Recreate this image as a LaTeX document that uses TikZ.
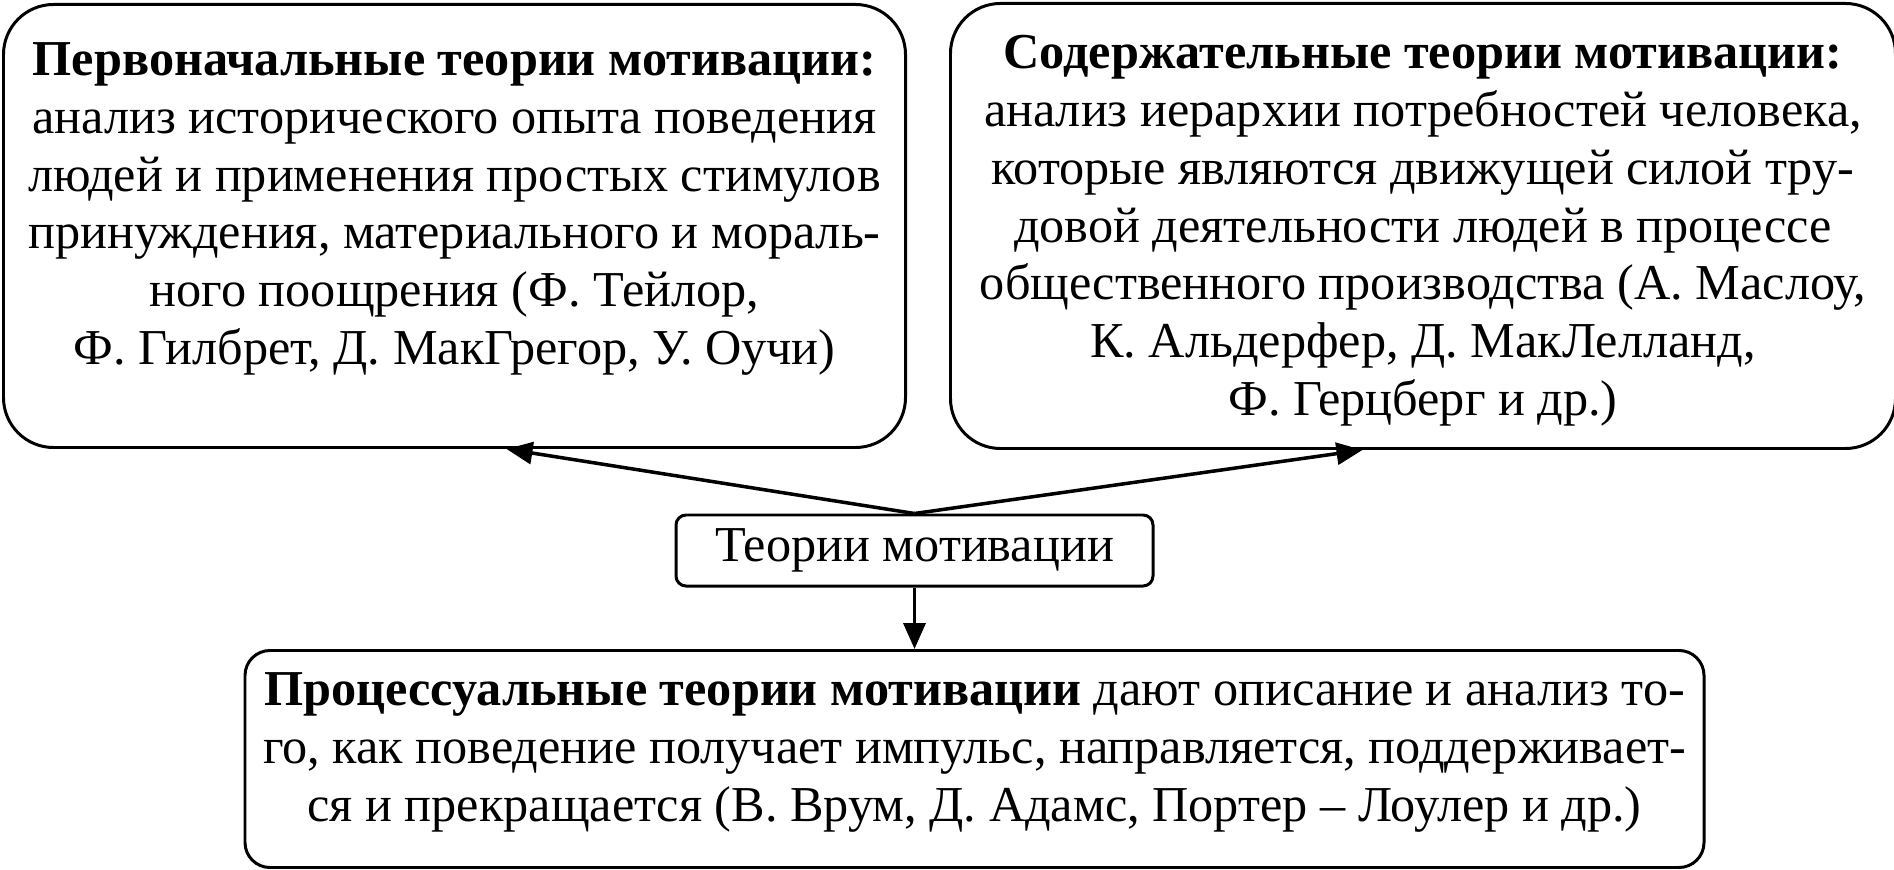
\documentclass[tikz,border=0pt]{standalone}
\usepackage{fontspec}
\setmainfont{Liberation Serif}
\usetikzlibrary{positioning, arrows.meta}

\begin{document}
\begin{tikzpicture}[
    bigbox/.style={rectangle, draw=black, line width=0.85pt, rounded corners=0.5cm, align=center, inner sep=0.1cm},
    smallbox/.style={rectangle, draw=black, line width=0.85pt, rounded corners=0.1cm, minimum width=4.77cm, minimum height=0.71cm},
    arrowline/.style={-{Triangle[length=0.26cm, width=0.22cm]}, line width=1pt},
    font=\fontsize{14.3pt}{16.45pt}\selectfont,
]
\useasboundingbox (0,0) rectangle (18.94,-8.69);
\node[bigbox, minimum width=9.02cm, text height=3.50cm, text depth=0.73cm, anchor=north west](early) at (0.02,-0.03){\textbf{Первоначальные теории мотивации:}\\
анализ исторического опыта поведения\\
людей и применения простых стимулов\\
принуждения, материального и мораль-\\
ного поощрения (Ф. Тейлор,\\
Ф. Гилбрет, Д. МакГрегор, У. Оучи)};
\node[bigbox, minimum width=9.45cm, text height=4.02cm, text depth=0.23cm](content)[right = 0.42cm of early]{\textbf{Содержательные теории мотивации:}\\
анализ иерархии потребностей человека,\\
которые являются движущей силой тру-\\
довой деятельности людей в процессе\\
общественного производства (А. Маслоу,\\
К. Альдерфер, Д. МакЛелланд,\\
Ф. Герцберг и др.)};
\node[smallbox](theory) at (9.145,-5.505){Теории мотивации};
\node[bigbox, rounded corners=0.25cm, minimum width=14.59cm, text height=1.61cm, text depth=0.36cm, anchor=north](process) at (9.745,-6.49){\textbf{Процессуальные теории мотивации} дают описание и анализ то-\\
го, как поведение получает импульс, направляется, поддерживает-\\
ся и прекращается (В. Врум, Д. Адамс, Портер -- Лоулер и др.)};
% arrows from the centre box
\draw[arrowline] (theory.north) -- ([xshift=0.52cm]early.south);
\draw[arrowline] (theory.north) -- ([xshift=-0.605cm]content.south);
\draw[arrowline] (theory.south) -- (theory.south |- process.north);
\end{tikzpicture}
\end{document}
